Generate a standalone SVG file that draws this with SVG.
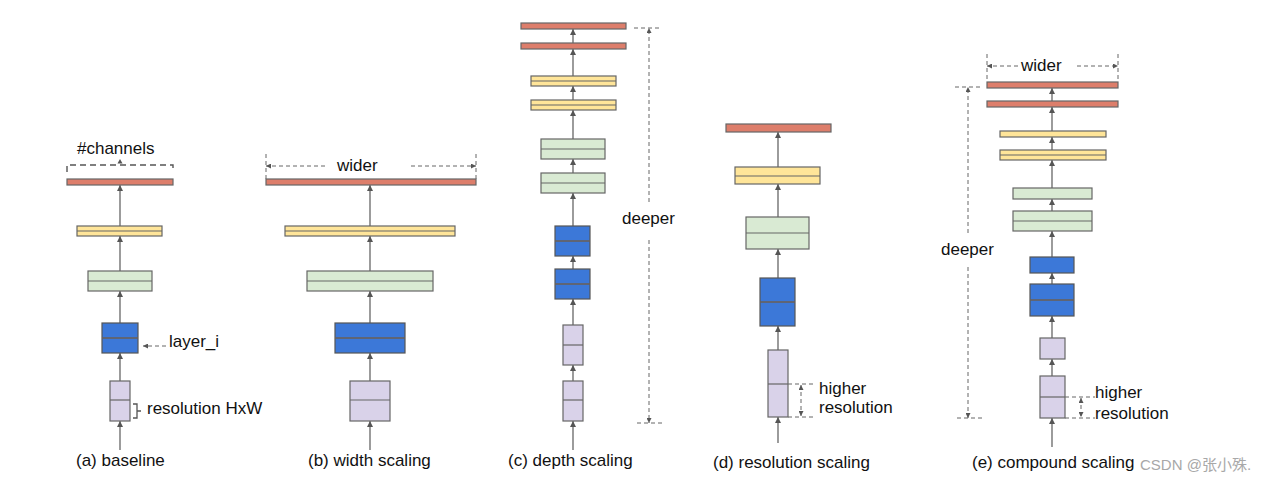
<svg xmlns="http://www.w3.org/2000/svg" width="1264" height="486" viewBox="0 0 1264 486">
<style>
  text{font-family:"Liberation Sans",Arial,sans-serif;font-size:17px;fill:#111}
  .wm{font-family:"Liberation Sans","Noto Sans CJK SC",sans-serif;font-size:15px;fill:#a8a8a8}
  rect{stroke:#666;stroke-width:1.2}
  .r{fill:#dd7e6b}.y{fill:#ffe599}.g{fill:#d9ead3}.b{fill:#3c78d8;stroke:#555}.p{fill:#d9d2e9}
  .mid{stroke:#666;stroke-width:1.2}
  .bmid{stroke:#6b5f55;stroke-width:1.4}
  .c{stroke:#666;stroke-width:1.3;fill:none;marker-end:url(#ah)}
  .d{stroke:#666;stroke-width:1;fill:none;stroke-dasharray:4 3}
  .dk{stroke:#555;stroke-width:1.4;fill:none;stroke-dasharray:6 4}
  .da{marker-end:url(#ad)}
  .ds{marker-start:url(#ads)}
</style>
<defs>
  <marker id="ah" viewBox="0 0 6 6" refX="6" refY="3" markerWidth="6" markerHeight="6" markerUnits="userSpaceOnUse" orient="auto"><path d="M0,0 L6,3 L0,6 z" fill="#555"/></marker>
  <marker id="ad" viewBox="0 0 6 6" refX="6" refY="3" markerWidth="5" markerHeight="5" markerUnits="userSpaceOnUse" orient="auto"><path d="M0,0 L6,3 L0,6 z" fill="#555"/></marker>
  <marker id="ads" viewBox="0 0 6 6" refX="0" refY="3" markerWidth="5" markerHeight="5" markerUnits="userSpaceOnUse" orient="auto"><path d="M6,0 L0,3 L6,6 z" fill="#555"/></marker>
</defs>

<g id="connectors">
  <!-- (a) -->
  <path class="c" d="M120,450 V421"/><path class="c" d="M120,381 V353"/><path class="c" d="M120,323 V291"/><path class="c" d="M120,271 V236"/><path class="c" d="M120,226 V185"/>
  <!-- (b) -->
  <path class="c" d="M370,450 V421"/><path class="c" d="M370,381 V353"/><path class="c" d="M370,323 V291"/><path class="c" d="M370,271 V236"/><path class="c" d="M370,226 V185"/>
  <!-- (c) -->
  <path class="c" d="M573,450 V421"/><path class="c" d="M573,381 V365"/><path class="c" d="M573,325 V299"/><path class="c" d="M573,269 V256"/><path class="c" d="M573,226 V193"/><path class="c" d="M573,173 V159"/><path class="c" d="M573,139 V110"/><path class="c" d="M573,100 V86"/><path class="c" d="M573,76 V49"/><path class="c" d="M573,43 V29"/>
  <!-- (d) -->
  <path class="c" d="M778,443 V417"/><path class="c" d="M778,350 V326"/><path class="c" d="M778,278 V249"/><path class="c" d="M778,217 V184"/><path class="c" d="M778,167 V132"/>
  <!-- (e) -->
  <path class="c" d="M1052,447 V418"/><path class="c" d="M1052,376 V359"/><path class="c" d="M1052,338 V316"/><path class="c" d="M1052,284 V273"/><path class="c" d="M1052,257 V231"/><path class="c" d="M1052,211 V199"/><path class="c" d="M1052,188 V160"/><path class="c" d="M1052,150 V137"/><path class="c" d="M1052,131 V107"/><path class="c" d="M1052,101 V88"/>
</g>

<g id="panel-a">
  <rect class="r" x="67" y="179" width="106" height="6"/>
  <rect class="y" x="77" y="226" width="85" height="10"/><line class="mid" x1="77" y1="231" x2="162" y2="231"/>
  <rect class="g" x="88" y="271" width="64" height="20"/><line class="mid" x1="88" y1="281" x2="152" y2="281"/>
  <rect class="b" x="102" y="323" width="36" height="30"/><line class="bmid" x1="102" y1="338" x2="138" y2="338"/>
  <rect class="p" x="110" y="381" width="20" height="40"/><line class="mid" x1="110" y1="400" x2="130" y2="400"/>
  <path class="dk" d="M67,172 V165 H173 V172"/>
  <path d="M117.5,163.5 L120,159 L122.5,163.5 z" fill="#555"/>
  <text x="77" y="154">#channels</text>
  <path class="d da" d="M166,346 H143"/>
  <text x="169" y="347">layer_i</text>
  <path d="M133,404 H137 V418 H133 M137,411 H141" stroke="#555" stroke-width="1.3" fill="none"/>
  <text x="147" y="414">resolution HxW</text>
  <text x="76" y="466">(a) baseline</text>
</g>

<g id="panel-b">
  <rect class="r" x="266" y="179" width="210" height="6"/>
  <rect class="y" x="285" y="226" width="170" height="10"/><line class="mid" x1="285" y1="231" x2="455" y2="231"/>
  <rect class="g" x="307" y="271" width="126" height="20"/><line class="mid" x1="307" y1="281" x2="433" y2="281"/>
  <rect class="b" x="335" y="323" width="70" height="30"/><line class="bmid" x1="335" y1="338" x2="405" y2="338"/>
  <rect class="p" x="350" y="381" width="40" height="40"/><line class="mid" x1="350" y1="400" x2="390" y2="400"/>
  <path class="d" d="M266,154 V180 M476,154 V180"/>
  <path class="d da" d="M325,166 H266"/><path class="d da" d="M411,166 H476"/>
  <text x="337" y="171">wider</text>
  <text x="308" y="466">(b) width scaling</text>
</g>

<g id="panel-c">
  <rect class="r" x="521" y="23" width="105" height="6"/>
  <rect class="r" x="521" y="43" width="105" height="6"/>
  <rect class="y" x="531" y="76" width="85" height="10"/><line class="mid" x1="531" y1="81" x2="616" y2="81"/>
  <rect class="y" x="531" y="100" width="85" height="10"/><line class="mid" x1="531" y1="105" x2="616" y2="105"/>
  <rect class="g" x="541" y="139" width="64" height="20"/><line class="mid" x1="541" y1="149" x2="605" y2="149"/>
  <rect class="g" x="541" y="173" width="64" height="20"/><line class="mid" x1="541" y1="183" x2="605" y2="183"/>
  <rect class="b" x="555" y="226" width="35" height="30"/><line class="bmid" x1="555" y1="241" x2="590" y2="241"/>
  <rect class="b" x="555" y="269" width="35" height="30"/><line class="bmid" x1="555" y1="284" x2="590" y2="284"/>
  <rect class="p" x="563" y="325" width="20" height="40"/><line class="mid" x1="563" y1="345" x2="583" y2="345"/>
  <rect class="p" x="563" y="381" width="20" height="40"/><line class="mid" x1="563" y1="400" x2="583" y2="400"/>
  <path class="d" d="M634,28 H660 M637,423 H662"/>
  <path class="d da" d="M649,202 V28"/><path class="d da" d="M649,240 V423"/>
  <text x="622" y="224">deeper</text>
  <text x="508" y="466">(c) depth scaling</text>
</g>

<g id="panel-d">
  <rect class="r" x="726" y="124" width="105" height="8"/>
  <rect class="y" x="735" y="167" width="85" height="17"/><line class="mid" x1="735" y1="176" x2="820" y2="176"/>
  <rect class="g" x="746" y="217" width="63" height="32"/><line class="mid" x1="746" y1="233" x2="809" y2="233"/>
  <rect class="b" x="760" y="278" width="35" height="48"/><line class="bmid" x1="760" y1="302" x2="795" y2="302"/>
  <rect class="p" x="768" y="350" width="20" height="67"/><line class="mid" x1="768" y1="384" x2="788" y2="384"/>
  <path class="d" d="M788,384 H815 M788,417 H815"/>
  <path class="d da ds" d="M801,385 V416"/>
  <text x="819" y="394">higher</text>
  <text x="819" y="413">resolution</text>
  <text x="713" y="468">(d) resolution scaling</text>
</g>

<g id="panel-e">
  <rect class="r" x="987" y="82" width="131" height="6"/>
  <rect class="r" x="987" y="101" width="131" height="6"/>
  <rect class="y" x="1000" y="131" width="106" height="6"/>
  <rect class="y" x="1000" y="150" width="106" height="10"/><line class="mid" x1="1000" y1="155" x2="1106" y2="155"/>
  <rect class="g" x="1013" y="188" width="79" height="11"/>
  <rect class="g" x="1013" y="211" width="79" height="20"/><line class="mid" x1="1013" y1="221" x2="1092" y2="221"/>
  <rect class="b" x="1030" y="257" width="44" height="16"/>
  <rect class="b" x="1030" y="284" width="44" height="32"/><line class="bmid" x1="1030" y1="300" x2="1074" y2="300"/>
  <rect class="p" x="1040" y="338" width="25" height="21"/>
  <rect class="p" x="1040" y="376" width="25" height="42"/><line class="mid" x1="1040" y1="397" x2="1065" y2="397"/>
  <path class="d" d="M987,54 V82 M1118,54 V82"/>
  <path class="d da" d="M1018,66 H987"/><path class="d da" d="M1077,66 H1118"/>
  <text x="1021" y="71">wider</text>
  <path class="d" d="M955,87 H980 M957,418 H982"/>
  <path class="d da" d="M968,233 V87"/><path class="d da" d="M968,267 V418"/>
  <text x="941" y="255">deeper</text>
  <path class="d" d="M1065,397 H1095 M1065,418 H1095"/>
  <path class="d da ds" d="M1081,398 V417"/>
  <text x="1095" y="398">higher</text>
  <text x="1095" y="419">resolution</text>
  <text x="972" y="468">(e) compound scaling</text>
</g>

<text class="wm" x="1140" y="470">CSDN @张小殊.</text>
</svg>
